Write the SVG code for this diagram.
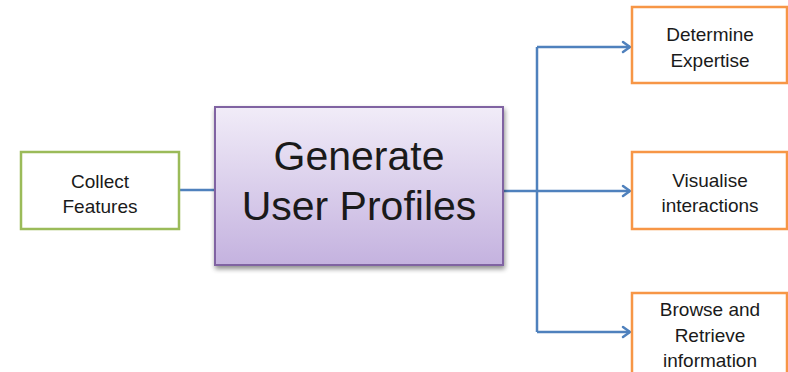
<svg xmlns="http://www.w3.org/2000/svg" width="788" height="372" viewBox="0 0 788 372">
<defs>
<linearGradient id="pg" x1="0" y1="0" x2="0" y2="1">
<stop offset="0" stop-color="#f1ecf8"/>
<stop offset="1" stop-color="#c4b2df"/>
</linearGradient>
<filter id="sh" x="-10%" y="-10%" width="120%" height="130%">
<feGaussianBlur in="SourceAlpha" stdDeviation="2.5"/>
<feOffset dx="1" dy="3" result="b"/>
<feComponentTransfer><feFuncA type="linear" slope="0.45"/></feComponentTransfer>
<feMerge><feMergeNode/><feMergeNode in="SourceGraphic"/></feMerge>
</filter>
<marker id="arr" markerWidth="14" markerHeight="14" refX="10" refY="7" orient="auto" markerUnits="userSpaceOnUse">
<polyline points="3,2 10,7 3,12" fill="none" stroke="#4f81bd" stroke-width="2.5" stroke-linecap="round" stroke-linejoin="round"/>
</marker>
</defs>
<style>
.t{font-family:"Liberation Sans",Arial,sans-serif;fill:#1a1a1a;text-anchor:middle}
.s{font-size:19px}
.big{font-size:41px}
.c{fill:none;stroke:#4f81bd;stroke-width:2.5}
.g{fill:#ffffff;stroke:#9bbb59;stroke-width:2.5}
.o{fill:#ffffff;stroke:#f79646;stroke-width:2.5}
</style>
<rect width="788" height="372" fill="#ffffff"/>
<g id="connectors">
<line class="c" x1="179" y1="190" x2="215" y2="190"/>
<line class="c" x1="503" y1="191" x2="537" y2="191"/>
<polyline class="c" points="537,47 537,332"/>
<polyline class="c" points="537,47 630,47" marker-end="url(#arr)"/>
<polyline class="c" points="537,191 630,191" marker-end="url(#arr)"/>
<polyline class="c" points="537,332 630,332" marker-end="url(#arr)"/>
</g>
<g id="collect">
<rect class="g" x="21" y="152" width="158" height="77"/>
<text class="t s" x="100" y="188">Collect</text>
<text class="t s" x="100" y="213">Features</text>
</g>
<g id="generate">
<rect x="215" y="107" width="288" height="158" fill="url(#pg)" stroke="#8064a2" stroke-width="2" filter="url(#sh)"/>
<text class="t big" x="359" y="170">Generate</text>
<text class="t big" x="359" y="220">User Profiles</text>
</g>
<g id="determine">
<rect class="o" x="632" y="7" width="155" height="76"/>
<text class="t s" x="710" y="41">Determine</text>
<text class="t s" x="710" y="67">Expertise</text>
</g>
<g id="visualise">
<rect class="o" x="632" y="152" width="155" height="77"/>
<text class="t s" x="710" y="187">Visualise</text>
<text class="t s" x="710" y="212">interactions</text>
</g>
<g id="browse">
<rect class="o" x="632" y="293" width="155" height="90"/>
<text class="t s" x="710" y="316">Browse and</text>
<text class="t s" x="710" y="342">Retrieve</text>
<text class="t s" x="710" y="367">information</text>
</g>
</svg>
